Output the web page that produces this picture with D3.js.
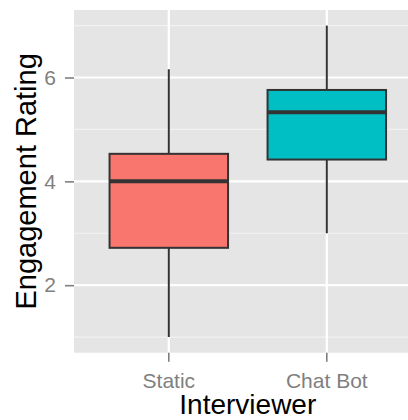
<!DOCTYPE html>
<html>
<head>
<meta charset="utf-8">
<script src="https://cdn.jsdelivr.net/npm/d3@7"></script>
<style>
  body { margin: 0; background: #fff; }
  svg { display: block; font-family: "Liberation Sans", Arial, sans-serif; }
</style>
</head>
<body>
<div id="chart"></div>
<script>
// box stats
var categories = ["Static", "Chat Bot"];
var whiskerLow = [1.0, 3.0];
var q1 = [2.72, 4.42];
var medians = [4.0, 5.33];
var q3 = [4.53, 5.76];
var whiskerHigh = [6.16, 7.0];
var boxColors = ["#F8766D", "#00BFC4"];
var yTicks = [2, 4, 6];
var yMinor = [1, 3, 5, 7];

var width = 408, height = 420;
var panel = {left: 74, top: 10, bottom: 352.7, right: 421.6};

var svg = d3.select("#chart").append("svg")
    .attr("width", width)
    .attr("height", height);

var x = d3.scaleBand().domain(categories)
    .range([panel.left, panel.right])
    .paddingInner(0).paddingOuter(0.1);
var y = d3.scaleLinear().domain([0.7, 7.3]).range([panel.bottom, panel.top]);

//=========== panel + grid ===========
svg.append("rect")
    .attr("x", panel.left).attr("y", panel.top)
    .attr("width", panel.right - panel.left)
    .attr("height", panel.bottom - panel.top)
    .attr("fill", "#E5E5E5");

svg.append("g").selectAll("line").data(yMinor)
    .enter().append("line")
    .attr("x1", panel.left).attr("x2", panel.right)
    .attr("y1", function(d){return y(d);}).attr("y2", function(d){return y(d);})
    .attr("stroke", "#F2F2F2").attr("stroke-width", 1.2);

svg.append("g").selectAll("line").data(yTicks)
    .enter().append("line")
    .attr("x1", panel.left).attr("x2", panel.right)
    .attr("y1", function(d){return y(d);}).attr("y2", function(d){return y(d);})
    .attr("stroke", "#fff").attr("stroke-width", 2.2);

svg.append("g").selectAll("line").data(categories)
    .enter().append("line")
    .attr("x1", function(d){return x(d) + x.bandwidth()/2;})
    .attr("x2", function(d){return x(d) + x.bandwidth()/2;})
    .attr("y1", panel.top).attr("y2", panel.bottom)
    .attr("stroke", "#fff").attr("stroke-width", 2.2);

//=========== boxes ===========
var bw = x.bandwidth() * 0.75;
var boxes = svg.append("g").selectAll("g").data(categories)
    .enter().append("g");

boxes.append("line")
    .attr("x1", function(d){return x(d) + x.bandwidth()/2;})
    .attr("x2", function(d){return x(d) + x.bandwidth()/2;})
    .attr("y1", function(d,i){return y(whiskerHigh[i]);})
    .attr("y2", function(d,i){return y(whiskerLow[i]);})
    .attr("stroke", "#333").attr("stroke-width", 2);

boxes.append("rect")
    .attr("x", function(d){return x(d) + (x.bandwidth() - bw)/2;})
    .attr("width", bw)
    .attr("y", function(d,i){return y(q3[i]);})
    .attr("height", function(d,i){return y(q1[i]) - y(q3[i]);})
    .attr("fill", function(d,i){return boxColors[i];})
    .attr("stroke", "#333").attr("stroke-width", 2);

boxes.append("line")
    .attr("x1", function(d){return x(d) + (x.bandwidth() - bw)/2;})
    .attr("x2", function(d){return x(d) + (x.bandwidth() + bw)/2;})
    .attr("y1", function(d,i){return y(medians[i]);})
    .attr("y2", function(d,i){return y(medians[i]);})
    .attr("stroke", "#333").attr("stroke-width", 4);

//=========== axes ===========
var yAxis = svg.append("g")
    .attr("transform", "translate(" + panel.left + ",0)")
    .call(d3.axisLeft(y).tickValues(yTicks).tickFormat(d3.format("d")).tickSize(9).tickPadding(9));
var xAxis = svg.append("g")
    .attr("transform", "translate(0," + panel.bottom + ")")
    .call(d3.axisBottom(x).tickSize(9).tickPadding(11));

[yAxis, xAxis].forEach(function(ax){
    ax.select(".domain").remove();
    ax.selectAll(".tick line").attr("stroke", "#7F7F7F").attr("stroke-width", 1.6);
    ax.selectAll(".tick text").attr("fill", "#7F7F7F")
        .style("font-size", "21px")
        .style("font-family", "'Liberation Sans', Arial, sans-serif");
});

svg.append("text")
    .attr("x", (panel.left + panel.right) / 2)
    .attr("y", 414)
    .attr("text-anchor", "middle")
    .style("font-size", "28px")
    .attr("fill", "#000")
    .text("Interviewer");

svg.append("text")
    .attr("transform", "translate(36," + ((panel.top + panel.bottom) / 2) + ") rotate(-90)")
    .attr("text-anchor", "middle")
    .style("font-size", "29px")
    .attr("fill", "#000")
    .text("Engagement Rating");
</script>
</body>
</html>
